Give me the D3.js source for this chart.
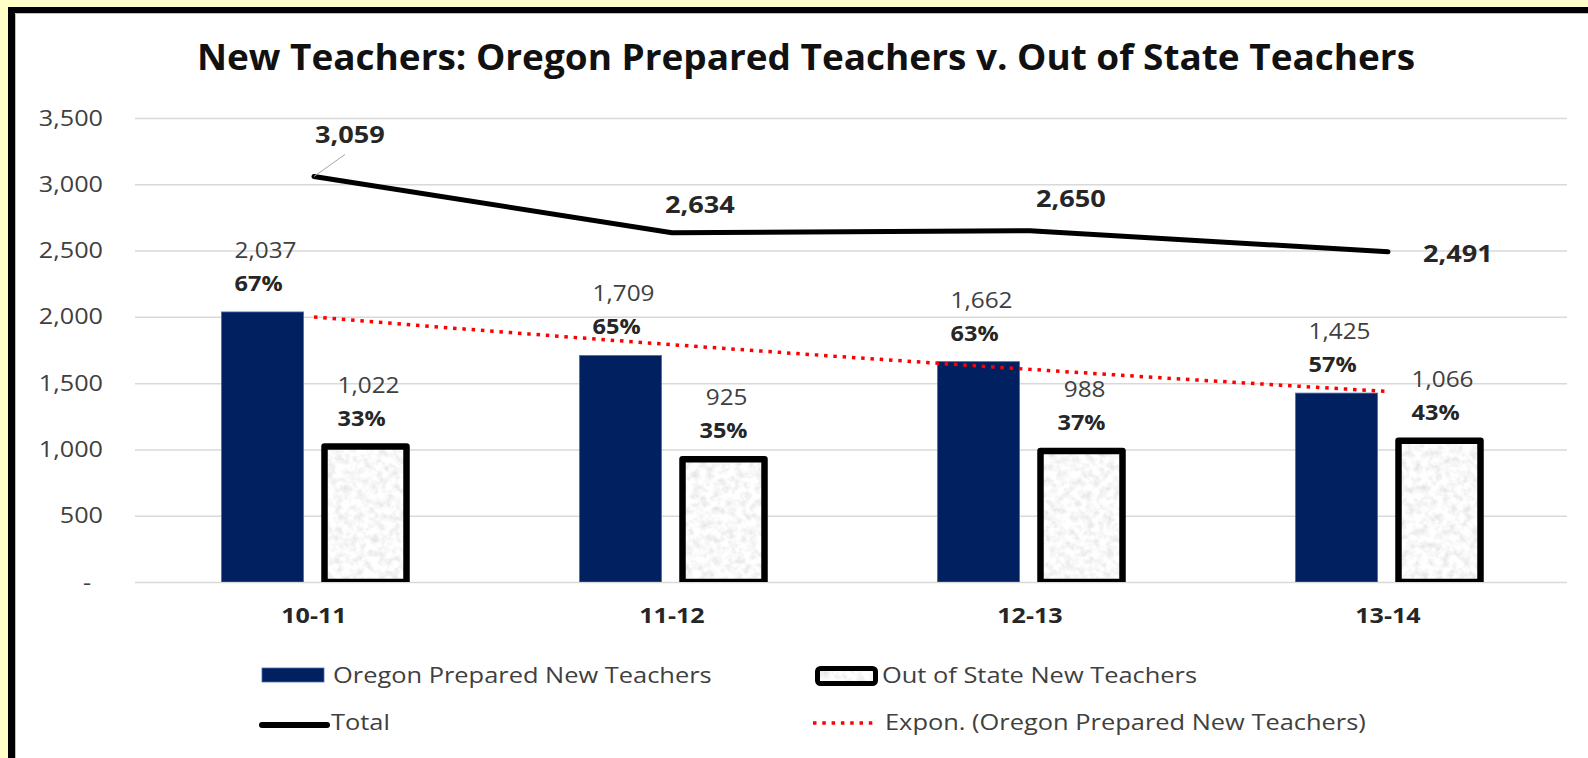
<!DOCTYPE html>
<html>
<head>
<meta charset="utf-8">
<script src="https://cdn.jsdelivr.net/npm/d3@7"></script>
<style>
  html, body { margin: 0; padding: 0; background: #fffec6; }
  svg { display: block; }
  text { font-family: "Open Sans", "Noto Sans", sans-serif; }
</style>
</head>
<body>
<svg id="chart" width="1588" height="758"></svg>
<script>
// ---- data ----
const categories = ["10-11", "11-12", "12-13", "13-14"];
const oregonPrepared = [2037, 1709, 1662, 1425];
const outOfState = [1022, 925, 988, 1066];
const total = [3059, 2634, 2650, 2491];
const oregonShare = ["67%", "65%", "63%", "57%"];
const outShare = ["33%", "35%", "37%", "43%"];
const yTicks = [0, 500, 1000, 1500, 2000, 2500, 3000, 3500];
const seriesNames = ["Oregon Prepared New Teachers", "Out of State New Teachers"];
const totalName = "Total";
const trendName = "Expon. (Oregon Prepared New Teachers)";
const titleText = "New Teachers: Oregon Prepared Teachers v. Out of State Teachers";

// label placement for the Total series (offset from each point)
const totalLabelOffsets = [[36, -33], [28, -20], [41, -24], [70, 10]];

// ---- layout ----
const W = 1588, H = 758;
const plot = { left: 135, right: 1567, top: 118, bottom: 582 };
const navy = "#002060";
const textDark = "#262626";
const textMid = "#404040";

const svg = d3.select("#chart");
const defs = svg.append("defs");

// granite-like grey texture for the out-of-state bars
const grain = defs.append("filter").attr("id", "grain")
  .attr("x", 0).attr("y", 0).attr("width", "100%").attr("height", "100%");
grain.append("feTurbulence").attr("type", "fractalNoise")
  .attr("baseFrequency", 0.14).attr("numOctaves", 3).attr("seed", 7).attr("result", "noise");
grain.append("feColorMatrix").attr("in", "noise").attr("type", "matrix")
  .attr("values", "0.45 0 0 0 0.72  0.45 0 0 0 0.72  0.45 0 0 0 0.72  0 0 0 0 1")
  .attr("result", "grey");
grain.append("feComposite").attr("in", "grey").attr("in2", "SourceGraphic").attr("operator", "in");

defs.append("clipPath").attr("id", "plotClip")
  .append("rect").attr("x", 0).attr("y", 0).attr("width", W).attr("height", plot.bottom);

// horizontal text stretch helper
function stretch(sel, k) {
  sel.each(function () {
    const w = this.getComputedTextLength();
    this.setAttribute("textLength", w * k);
    this.setAttribute("lengthAdjust", "spacingAndGlyphs");
  });
  return sel;
}

// ---- frame ----
svg.append("rect").attr("x", 8).attr("y", 7).attr("width", W).attr("height", H).attr("fill", "#000");
svg.append("rect").attr("x", 15).attr("y", 13).attr("width", W).attr("height", H).attr("fill", "#fff");
svg.append("path").attr("d", `M15.5,${H} V13.5 H${W}`).attr("fill", "none").attr("stroke", "#bfbfbf").attr("stroke-width", 1);

// ---- title ----
svg.append("text")
  .attr("x", 806).attr("y", 70)
  .attr("text-anchor", "middle")
  .attr("font-size", 35).attr("font-weight", 700).attr("fill", "#111")
  .attr("textLength", 1218).attr("lengthAdjust", "spacingAndGlyphs")
  .text(titleText);

// ---- scales ----
const y = d3.scaleLinear().domain([0, 3500]).range([plot.bottom, plot.top]);
const x0 = d3.scaleBand().domain(categories).range([plot.left, plot.right]).paddingInner(0).paddingOuter(0);
const groupW = 185;
const x1 = d3.scaleBand().domain(seriesNames).range([0, groupW]).paddingInner(21 / 103);
const cx = c => x0(c) + x0.bandwidth() / 2;
const groupLeft = c => cx(c) - groupW / 2;

// ---- gridlines + y axis ----
const yAxis = d3.axisLeft(y).tickValues(yTicks)
  .tickSize(-(plot.right - plot.left))
  .tickFormat(d => d === 0 ? "-" : d3.format(",")(d));
const gy = svg.append("g").attr("transform", `translate(${plot.left},0)`).call(yAxis);
gy.select(".domain").remove();
gy.selectAll(".tick line").attr("stroke", "#d9d9d9").attr("stroke-width", 1.5);
gy.selectAll(".tick text")
  .attr("x", d => d === 0 ? -44 : -32)
  .attr("dy", null).attr("y", 7)
  .attr("font-size", 21).attr("fill", textMid)
  .attr("font-family", "'Open Sans', sans-serif");
stretch(gy.selectAll(".tick text"), 1.2);

// ---- x axis labels ----
const xAxis = d3.axisBottom(x0).tickSize(0).tickPadding(0);
const gx = svg.append("g").attr("transform", `translate(0,${plot.bottom})`).call(xAxis);
gx.select(".domain").remove();
gx.selectAll(".tick text")
  .attr("dy", null).attr("y", 41)
  .attr("font-size", 22).attr("font-weight", 700).attr("fill", textDark)
  .attr("font-family", "'Open Sans', sans-serif");
stretch(gx.selectAll(".tick text"), 1.14);

// ---- bars ----
const barsG = svg.append("g").attr("clip-path", "url(#plotClip)");
const bw = x1.bandwidth();

barsG.selectAll("rect.oregon").data(oregonPrepared).join("rect")
  .attr("class", "oregon")
  .attr("x", (d, i) => groupLeft(categories[i]) + x1(seriesNames[0]))
  .attr("y", d => y(d))
  .attr("width", bw)
  .attr("height", d => y(0) - y(d))
  .attr("fill", navy).attr("stroke", "#4a6cb0").attr("stroke-width", 0.8);

barsG.selectAll("rect.outfill").data(outOfState).join("rect")
  .attr("class", "outfill")
  .attr("x", (d, i) => groupLeft(categories[i]) + x1(seriesNames[1]))
  .attr("y", d => y(d))
  .attr("width", bw)
  .attr("height", d => y(0) - y(d))
  .attr("fill", "#eee").attr("filter", "url(#grain)");

barsG.selectAll("rect.outline").data(outOfState).join("rect")
  .attr("class", "outline")
  .attr("x", (d, i) => groupLeft(categories[i]) + x1(seriesNames[1]))
  .attr("y", d => y(d))
  .attr("width", bw)
  .attr("height", d => y(0) - y(d))
  .attr("fill", "none").attr("stroke", "#000").attr("stroke-width", 6.5)
  .attr("stroke-linejoin", "round");

// ---- exponential trendline of Oregon prepared teachers ----
const xs = oregonPrepared.map((d, i) => i + 1);
const lnY = oregonPrepared.map(d => Math.log(d));
const mx = d3.mean(xs), my = d3.mean(lnY);
const slope = d3.sum(xs, (v, i) => (v - mx) * (lnY[i] - my)) / d3.sum(xs, v => (v - mx) * (v - mx));
const intercept = my - slope * mx;
const xt = d3.scaleLinear().domain([1, categories.length]).range([cx(categories[0]), cx(categories[categories.length - 1])]);
const trendPts = d3.range(1, categories.length + 0.0001, 0.05).map(t => [t, Math.exp(intercept + slope * t)]);
svg.append("path")
  .attr("d", d3.line().x(d => xt(d[0])).y(d => y(d[1]))(trendPts))
  .attr("fill", "none").attr("stroke", "#ff0000").attr("stroke-width", 3.5)
  .attr("stroke-dasharray", "3.5 5.8");

// ---- total line ----
svg.append("path")
  .attr("d", d3.line().x((d, i) => cx(categories[i])).y(d => y(d))(total))
  .attr("fill", "none").attr("stroke", "#000").attr("stroke-width", 5)
  .attr("stroke-linejoin", "round").attr("stroke-linecap", "round");

// total labels (with a leader line where the label was lifted well above its point)
total.forEach((d, i) => {
  const px = cx(categories[i]), py = y(d);
  const [dx, dy] = totalLabelOffsets[i];
  if (dy < -30) {
    svg.append("line")
      .attr("x1", px + dx - 5).attr("y1", py + dy + 11)
      .attr("x2", px).attr("y2", py)
      .attr("stroke", "#a6a6a6").attr("stroke-width", 1);
  }
  const t = svg.append("text")
    .attr("x", px + dx).attr("y", py + dy)
    .attr("text-anchor", "middle")
    .attr("font-size", 23).attr("font-weight", 700).attr("fill", textDark)
    .text(d3.format(",")(d));
  stretch(t, 1.18);
});

// ---- bar labels: value line + share line ----
function barLabels(values, shares, seriesIdx) {
  values.forEach((d, i) => {
    const bcx = groupLeft(categories[i]) + x1(seriesNames[seriesIdx]) + bw / 2;
    const top = y(d);
    const v = svg.append("text").attr("y", top - 54)
      .attr("font-size", 21).attr("fill", textMid).text(d3.format(",")(d));
    const p = svg.append("text").attr("y", top - 21)
      .attr("font-size", 21).attr("font-weight", 700).attr("fill", textDark).text(shares[i]);
    stretch(v, 1.16);
    stretch(p, 1.12);
    const wv = +v.attr("textLength"), wp = +p.attr("textLength");
    const blockW = Math.max(wv, wp);
    if (wp > wv) {
      // share line is the wider one: align right edges
      const right = bcx + blockW / 2;
      v.attr("x", right).attr("text-anchor", "end");
      p.attr("x", right).attr("text-anchor", "end");
    } else {
      const left = bcx - blockW / 2 + 3;
      v.attr("x", left).attr("text-anchor", "start");
      p.attr("x", left).attr("text-anchor", "start");
    }
  });
}
barLabels(oregonPrepared, oregonShare, 0);
barLabels(outOfState, outShare, 1);

// ---- legend ----
const lg = svg.append("g");
const legendFont = 22;
const legendStretch = 1.155;
// Oregon prepared
lg.append("rect").attr("x", 262).attr("y", 668).attr("width", 62).attr("height", 14)
  .attr("fill", navy).attr("stroke", "#4a6cb0").attr("stroke-width", 0.8);
stretch(lg.append("text").attr("x", 333).attr("y", 683).attr("font-size", legendFont)
  .attr("fill", textMid).text(seriesNames[0]), legendStretch);
// Out of state
lg.append("rect").attr("x", 817.5).attr("y", 668.5).attr("width", 58).attr("height", 15)
  .attr("fill", "#eee").attr("filter", "url(#grain)");
lg.append("rect").attr("x", 817.5).attr("y", 668.5).attr("width", 58).attr("height", 15).attr("rx", 3)
  .attr("fill", "none").attr("stroke", "#000").attr("stroke-width", 5);
stretch(lg.append("text").attr("x", 882).attr("y", 683).attr("font-size", legendFont)
  .attr("fill", textMid).text(seriesNames[1]), legendStretch);
// Total
lg.append("line").attr("x1", 262).attr("x2", 327).attr("y1", 725).attr("y2", 725)
  .attr("stroke", "#000").attr("stroke-width", 6).attr("stroke-linecap", "round");
stretch(lg.append("text").attr("x", 331).attr("y", 730).attr("font-size", legendFont)
  .attr("fill", textMid).text(totalName), legendStretch);
// Trendline
lg.append("line").attr("x1", 813).attr("x2", 876).attr("y1", 723).attr("y2", 723)
  .attr("stroke", "#ff0000").attr("stroke-width", 3.5).attr("stroke-dasharray", "3.5 5.8");
stretch(lg.append("text").attr("x", 885).attr("y", 730).attr("font-size", legendFont)
  .attr("fill", textMid).text(trendName), legendStretch);
</script>
</body>
</html>
